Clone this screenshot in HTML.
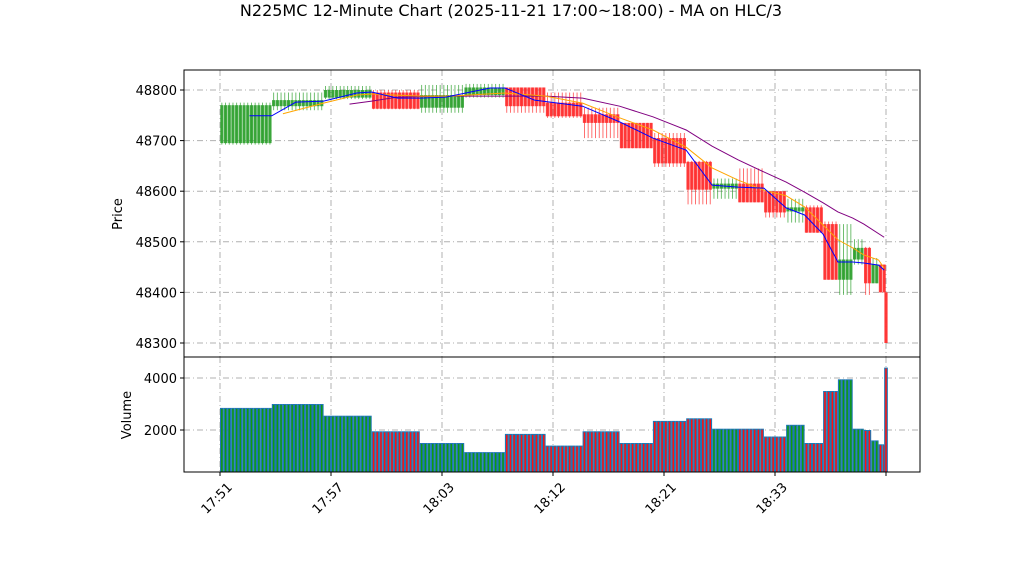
<!DOCTYPE html>
<html><head><meta charset="utf-8"><style>
body{margin:0;background:#fff;font-family:"Liberation Sans","DejaVu Sans",sans-serif}
svg text{font-family:"DejaVu Sans","Liberation Sans",sans-serif}
</style></head><body>
<svg id="c" width="1022" height="575" xmlns="http://www.w3.org/2000/svg"></svg>
<script>
// ---- data ----
const segStart=[0,14,28,41,54,66,77,88,98,108,117,126,133,140,147,153,158,163,167,171,174,176,178,179.5];
const segEnd=[14,28,41,54,66,77,88,98,108,117,126,133,140,147,153,158,163,167,171,174,176,178,179.5,180.5];
const opens=[48695,48768,48785,48795,48765,48790,48805,48775,48752,48735,48705,48658,48605,48615,48600,48560,48568,48535,48425,48465,48488,48418,48455,48400];
const closes=[48770,48780,48800,48763,48790,48805,48768,48748,48735,48685,48655,48603,48615,48578,48558,48568,48518,48425,48465,48488,48418,48455,48400,48300];
const highs=[48775,48795,48808,48800,48810,48812,48805,48795,48765,48735,48715,48660,48625,48645,48600,48585,48572,48540,48535,48505,48490,48468,48455,48400];
const lows=[48692,48760,48782,48762,48755,48785,48755,48745,48705,48685,48648,48574,48585,48578,48548,48538,48518,48425,48395,48455,48395,48418,48400,48300];
const volumes=[2850,3000,2550,1950,1500,1150,1850,1400,1950,1500,2350,2450,2050,2050,1750,2200,1500,3500,3950,2050,2000,1600,1450,4400];
const blueX=[8,14,20.5,28,37,41,48,54,61,73,77,85,98,108,117,126,133,140,147,153,158,163,167,171,174,178,179.5];
const blueP=[48749,48749,48776,48778,48794,48796,48784,48784,48786,48804,48804,48780,48768,48737,48705,48681,48612,48608,48606,48567,48553,48515,48460,48460,48458,48454,48444];
const orangeX=[17,28,37,41,54,62,77,88,98,108,117,126,133,140,147,153,158,163,167,171,174,178,179.5];
const orangeP=[48753,48774,48790,48792,48788,48788,48794,48788,48774,48745,48721,48687,48646,48622,48602,48591,48569,48533,48504,48488,48474,48464,48448];
const purpleX=[35,41,48,59,77,88,98,108,117,126,133,140,147,153,158,163,167,171,174,179.5];
const purpleP=[48772,48778,48786,48788,48788,48788,48784,48768,48747,48721,48689,48662,48638,48618,48598,48577,48559,48547,48535,48509];
const tickIdx=[0,30,60,90,120,150,180];
const tickLabels=["17:51","17:57","18:03","18:12","18:21","18:33",""];
const priceTicks=[48300,48400,48500,48600,48700,48800];
const volTicks=[2000,4000];
// ---- axes ----
const L=184,R=920,PT=70,PB=357,VB=472;
const xs=i=>220+i*3.7;
const yp=p=>90+(48800-p)*0.506;
const yv=v=>430-(v-2000)*0.026;
const svg=document.getElementById('c');
const NS='http://www.w3.org/2000/svg';
function mk(t,a,parent){const e=document.createElementNS(NS,t);for(const k in a)e.setAttribute(k,a[k]);(parent||svg).appendChild(e);return e;}
let t=mk('text',{x:511,y:16,'text-anchor':'middle','font-size':16});t.textContent='N225MC 12-Minute Chart (2025-11-21 17:00~18:00) - MA on HLC/3';


const grid={stroke:'#b0b0b0','stroke-width':1,'stroke-dasharray':'6,3,1,3'};
tickIdx.forEach(i=>{mk('line',Object.assign({x1:xs(i),x2:xs(i),y1:PT,y2:PB},grid));mk('line',Object.assign({x1:xs(i),x2:xs(i),y1:PB,y2:VB},grid));});
priceTicks.forEach(p=>mk('line',Object.assign({x1:L,x2:R,y1:yp(p),y2:yp(p)},grid)));
volTicks.forEach(v=>mk('line',Object.assign({x1:L,x2:R,y1:yv(v),y2:yv(v)},grid)));
const gC=mk('g',{});
const gV=mk('g',{});
for(let s=0;s<opens.length;s++){
  const up=closes[s]>=opens[s];const col=up?'#2ca02c':'#ff2a2a';
  const top=yp(Math.max(opens[s],closes[s])),bot=yp(Math.min(opens[s],closes[s]));
  for(let i=segStart[s];i<segEnd[s]-0.01;i+=1){
    const cx=xs(i)+1.85;
    mk('line',{x1:cx,x2:cx,y1:yp(highs[s]),y2:yp(lows[s]),stroke:col,'stroke-width':0.9,opacity:0.75},gC);
    const b=mk('rect',{x:cx-1.6,y:top,width:3.2,height:Math.max(1,bot-top),fill:col,opacity:0.9},gC);
    
    
    const vb=mk('rect',{x:xs(i),y:yv(volumes[s]),width:Math.min(3.7,(segEnd[s]-i)*3.7),height:VB-yv(volumes[s]),fill:'#1f77b4'},gV);
    
    
    mk('line',{x1:cx,x2:cx,y1:yv(volumes[s])+1,y2:VB,stroke:up?'#0f9a0f':'#ff1010','stroke-width':1.5},gV);
  }
}
function ma(X,P,col,name){const p=mk('polyline',{points:X.map((x,i)=>xs(x)+','+yp(P[i])).join(' '),fill:'none',stroke:col,'stroke-width':1});

}
ma(purpleX,purpleP,'purple','ma-long');ma(orangeX,orangeP,'orange','ma-mid');ma(blueX,blueP,'blue','ma-short');
mk('rect',{x:L,y:PT,width:R-L,height:PB-PT,fill:'none',stroke:'#000','stroke-width':1});
mk('rect',{x:L,y:PB,width:R-L,height:VB-PB,fill:'none',stroke:'#000','stroke-width':1});
priceTicks.forEach(p=>{mk('line',{x1:L-4,x2:L,y1:yp(p),y2:yp(p),stroke:'#000'});const e=mk('text',{x:L-7,y:yp(p)+5,'text-anchor':'end','font-size':13});e.textContent=p;});
volTicks.forEach(v=>{mk('line',{x1:L-4,x2:L,y1:yv(v),y2:yv(v),stroke:'#000'});const e=mk('text',{x:L-7,y:yv(v)+5,'text-anchor':'end','font-size':13});e.textContent=v;});
tickIdx.forEach((i,k)=>{mk('line',{x1:xs(i),x2:xs(i),y1:VB,y2:VB+4,stroke:'#000'});const X=xs(i)+13,Y=VB+16;const e=mk('text',{x:X,y:Y,'text-anchor':'end','font-size':13,transform:`rotate(-45 ${X} ${Y})`});e.textContent=tickLabels[k];});
let a=mk('text',{x:122,y:214,'text-anchor':'middle','font-size':13,transform:'rotate(-90 122 214)'});a.textContent='Price';


a=mk('text',{x:131,y:415,'text-anchor':'middle','font-size':13,transform:'rotate(-90 131 415)'});a.textContent='Volume';


</script>
</body></html>
